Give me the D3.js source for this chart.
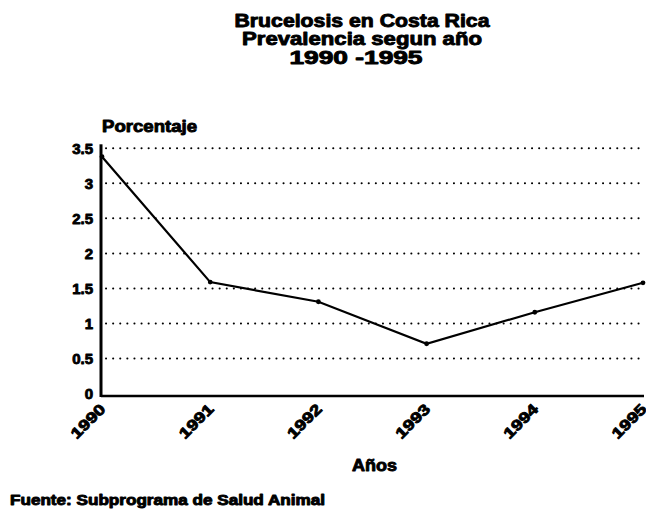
<!DOCTYPE html>
<html><head><meta charset="utf-8">
<script src="https://cdn.jsdelivr.net/npm/d3@7"></script>
<style>
body{margin:0;background:#fff;}
text{font-family:"Liberation Sans",Arial,sans-serif;font-weight:bold;fill:#000;stroke:#000;stroke-width:0.9px;stroke-linejoin:round;}
</style></head><body>
<svg id="c" width="646" height="512"></svg>
<script>
const years = ["1990","1991","1992","1993","1994","1995"];
const prevalence = [3.38, 1.59, 1.31, 0.71, 1.16, 1.58];
const yTicks = [0, 0.5, 1, 1.5, 2, 2.5, 3, 3.5];
const yTickLabels = ["0","0.5","1","1.5","2","2.5","3","3.5"];
const titleLines = ["Brucelosis en Costa Rica","Prevalencia segun año","1990 -1995"];

const svg = d3.select("#c");
const x = d3.scalePoint().domain(years).range([102, 643]);
const y = d3.scaleLinear().domain([0, 3.5]).range([393.5, 148.3]);

// grid
svg.append("g").selectAll("line").data(yTicks.filter(d=>d>0)).join("line")
  .attr("x1", 106).attr("x2", 640)
  .attr("y1", d=>y(d)).attr("y2", d=>y(d))
  .attr("stroke","#000").attr("stroke-width",2)
  .attr("stroke-dasharray","0.1 7").attr("stroke-linecap","round");

// axes
const ya = svg.append("g").attr("transform","translate(101,0)")
  .call(d3.axisLeft(y).tickValues(yTicks).tickFormat((d,i)=>yTickLabels[i]).tickSize(0).tickPadding(8));
ya.select(".domain").attr("stroke","#000").attr("stroke-width",3).attr("d","M0,"+(y(3.5)-4)+"V397");
ya.selectAll("text").style("font-size","15px").attr("font-family",null);

const xa = svg.append("g").attr("transform","translate(0,396)")
  .call(d3.axisBottom(x).tickSize(0).tickPadding(0));
xa.select(".domain").attr("stroke","#000").attr("stroke-width",2.5).attr("d","M101,0H644");
xa.selectAll("text").style("font-size","15px").attr("font-family",null)
  .attr("text-anchor","end").attr("dy",null).attr("y",0)
  .attr("textLength",42).attr("lengthAdjust","spacingAndGlyphs")
  .attr("transform","translate(4,14) rotate(-45)");

// line
svg.append("path").datum(prevalence)
  .attr("fill","none").attr("stroke","#000").attr("stroke-width",2.2)
  .attr("d", d3.line().x((d,i)=>x(years[i])).y(d=>y(d)));
svg.append("g").selectAll("circle").data(prevalence).join("circle")
  .attr("cx",(d,i)=>x(years[i])).attr("cy",d=>y(d)).attr("r",2.4).attr("fill","#000");

// titles
const tl = [255, 240, 133];
svg.append("g").selectAll("text").data(titleLines).join("text")
  .attr("x",(d,i)=>i===2?356:362).attr("y",(d,i)=>27+i*18.3).attr("text-anchor","middle")
  .attr("textLength",(d,i)=>tl[i]).attr("lengthAdjust","spacingAndGlyphs")
  .style("font-size","18px").text(d=>d);
svg.append("text").attr("x",102).attr("y",132).style("font-size","16px")
  .attr("textLength",95).attr("lengthAdjust","spacingAndGlyphs").text("Porcentaje");
svg.append("text").attr("x",352).attr("y",471).style("font-size","17px")
  .attr("textLength",45).attr("lengthAdjust","spacingAndGlyphs").text("Años");
svg.append("text").attr("x",10).attr("y",505).style("font-size","14px")
  .attr("textLength",315).attr("lengthAdjust","spacingAndGlyphs").text("Fuente: Subprograma de Salud Animal");
</script></body></html>
